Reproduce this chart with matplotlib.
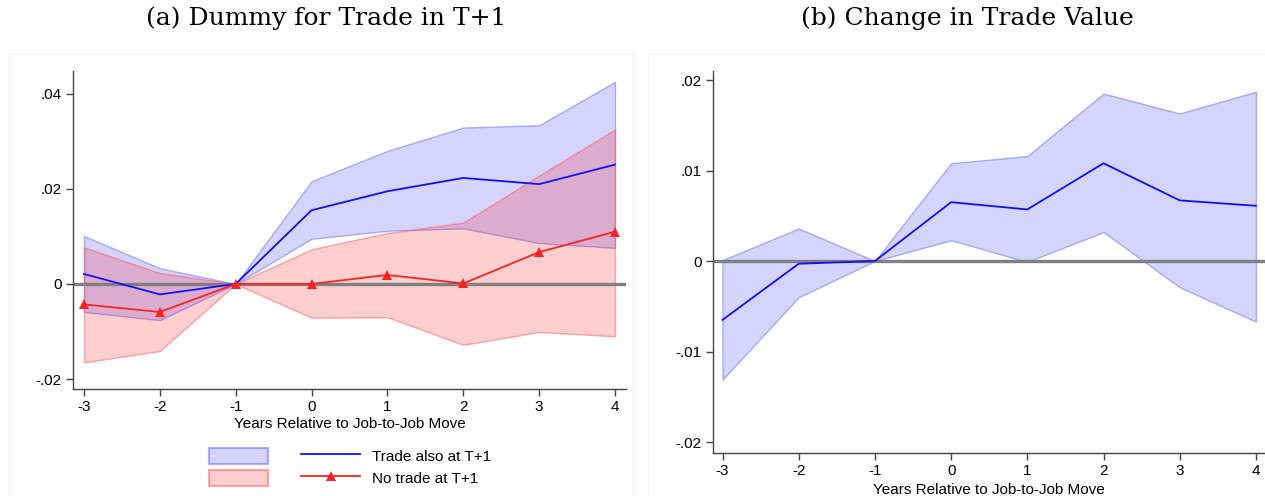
import matplotlib
matplotlib.use("Agg")
import matplotlib.pyplot as plt
from matplotlib.patches import Patch, Rectangle
from matplotlib.lines import Line2D

# ---------------- data ----------------
years = [-3, -2, -1, 0, 1, 2, 3, 4]
xtick_labels = ["-3", "-2", "-1", "0", "1", "2", "3", "4"]

# Panel (a): Dummy for Trade in T+1
trade_also = [0.0021, -0.0022, 0.0, 0.0155, 0.0195, 0.0223, 0.0210, 0.0251]
trade_also_hi = [0.0101, 0.0033, 0.0, 0.0216, 0.0280, 0.0329, 0.0334, 0.0425]
trade_also_lo = [-0.0059, -0.0076, 0.0, 0.0095, 0.0112, 0.0117, 0.0086, 0.0076]

no_trade = [-0.0043, -0.0059, 0.0, 0.0000, 0.0019, 0.0001, 0.0067, 0.0110]
no_trade_hi = [0.0077, 0.0023, 0.0, 0.0073, 0.0107, 0.0129, 0.0228, 0.0325]
no_trade_lo = [-0.0165, -0.0141, 0.0, -0.0071, -0.0070, -0.0128, -0.0101, -0.0110]

a_yticks = [-0.02, 0.0, 0.02, 0.04]
a_ytick_labels = ["-.02", "0", ".02", ".04"]

# Panel (b): Change in Trade Value
value_chg = [-0.0065, -0.0003, 0.0, 0.0065, 0.0057, 0.0108, 0.0067, 0.0061]
value_chg_hi = [0.0001, 0.0036, 0.0, 0.0108, 0.0116, 0.0185, 0.0163, 0.0187]
value_chg_lo = [-0.0131, -0.0040, 0.0, 0.0023, -0.0001, 0.0032, -0.0029, -0.0067]

b_yticks = [-0.02, -0.01, 0.0, 0.01, 0.02]
b_ytick_labels = ["-.02", "-.01", "0", ".01", ".02"]

titles = ["(a) Dummy for Trade in T+1", "(b) Change in Trade Value"]
xlabel = "Years Relative to Job-to-Job Move"
legend_labels = ["Trade also at T+1", "No trade at T+1"]

# ---------------- style ----------------
SANS = ["Liberation Sans", "DejaVu Sans"]
SERIF = ["DejaVu Serif"]
BLUE_FILL = (0.0, 0.0, 1.0, 0.17)
BLUE_EDGE = (0.45, 0.45, 1.0, 0.55)
RED_FILL = (1.0, 0.0, 0.0, 0.19)
RED_EDGE = (1.0, 0.35, 0.35, 0.5)
BLUE_LINE = "#1010ff"
RED_LINE = "#ff2222"
ZERO = "#808080"
SPINE = "#444444"

fig = plt.figure(figsize=(12.65, 4.96), dpi=100)

# faint outer graph regions
fig.add_artist(Rectangle((9 / 1265, 1 - 500 / 496), 624 / 1265, 446 / 496,
                         transform=fig.transFigure, fill=False,
                         edgecolor="#f3f3f3", linewidth=0.8))
fig.add_artist(Rectangle((648 / 1265, 1 - 500 / 496), 640 / 1265, 446 / 496,
                         transform=fig.transFigure, fill=False,
                         edgecolor="#f3f3f3", linewidth=0.8))

axA = fig.add_axes([73 / 1265, 1 - 389 / 496, 553 / 1265, 318 / 496])
axB = fig.add_axes([713 / 1265, 1 - 452.7 / 496, 552 / 1265, 382 / 496])


def style_axes(ax, yticks, ylabels):
    for s in ("top", "right"):
        ax.spines[s].set_visible(False)
    for s in ("left", "bottom"):
        ax.spines[s].set_color(SPINE)
        ax.spines[s].set_linewidth(1.0)
    ax.set_xticks(years)
    ax.set_xticklabels(xtick_labels, fontfamily=SANS, fontsize=11)
    ax.set_yticks(yticks)
    ax.set_yticklabels(ylabels, fontfamily=SANS, fontsize=11)
    ax.tick_params(axis="both", direction="out", length=5, width=1.0,
                   color=SPINE, pad=3)
    ax.set_facecolor("white")


# ---- panel (a)
axA.fill_between(years, trade_also_lo, trade_also_hi, facecolor=BLUE_FILL,
                 edgecolor=BLUE_EDGE, linewidth=1.0, zorder=1)
axA.fill_between(years, no_trade_lo, no_trade_hi, facecolor=RED_FILL,
                 edgecolor=RED_EDGE, linewidth=1.0, zorder=1.1)
axA.axhline(0, color=ZERO, linewidth=2.4, zorder=2)
axA.plot(years, trade_also, color=BLUE_LINE, linewidth=1.3, zorder=3)
axA.plot(years, no_trade, color=RED_LINE, linewidth=1.3, marker="^",
         markersize=7, markeredgewidth=0, zorder=3)
axA.set_xlim(-3.145, 4.145)
axA.set_ylim(-0.0221, 0.0448)
style_axes(axA, a_yticks, a_ytick_labels)
axA.set_xlabel(xlabel, fontfamily=SANS, fontsize=11, labelpad=2)

# ---- panel (b)
axB.fill_between(years, value_chg_lo, value_chg_hi, facecolor=BLUE_FILL,
                 edgecolor=BLUE_EDGE, linewidth=1.0, zorder=1)
axB.axhline(0, color=ZERO, linewidth=2.4, zorder=2)
axB.plot(years, value_chg, color=BLUE_LINE, linewidth=1.3, zorder=3)
axB.set_xlim(-3.125, 4.119)
axB.set_ylim(-0.02118, 0.02103)
style_axes(axB, b_yticks, b_ytick_labels)
axB.set_xlabel(xlabel, fontfamily=SANS, fontsize=11, labelpad=4)

# titles
fig.text(326 / 1265, 1 - 18 / 496, titles[0], ha="center", va="center",
         fontfamily=SERIF, fontsize=18)
fig.text(967 / 1265, 1 - 18 / 496, titles[1], ha="center", va="center",
         fontfamily=SERIF, fontsize=18)

# legend
handles = [
    Patch(facecolor=BLUE_FILL, edgecolor=BLUE_EDGE, linewidth=1.5),
    Patch(facecolor=RED_FILL, edgecolor=RED_EDGE, linewidth=1.5),
    Line2D([], [], color=BLUE_LINE, linewidth=1.3),
    Line2D([], [], color=RED_LINE, linewidth=1.3, marker="^", markersize=7,
           markeredgewidth=0),
]
labels = ["", "", legend_labels[0], legend_labels[1]]
fig.legend(handles, labels, ncol=2, loc="center", frameon=False,
           bbox_to_anchor=(350 / 1265, 1 - 467 / 496),
           prop={"family": SANS, "size": 11},
           handlelength=3.86, handleheight=1.3, columnspacing=1.4,
           labelspacing=0.35, handletextpad=0.8)

fig.savefig("out.png", dpi=100, facecolor="white")
